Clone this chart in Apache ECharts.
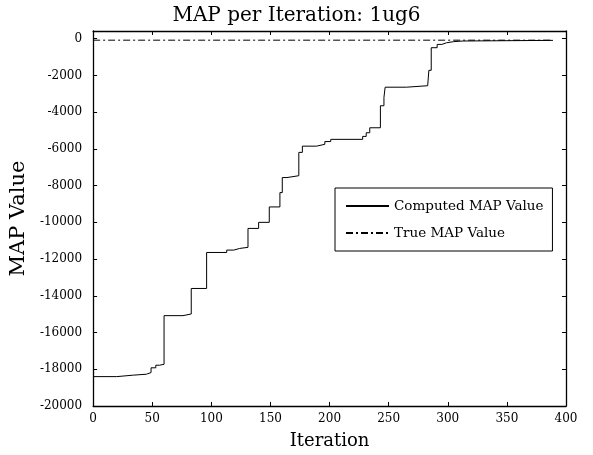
<!DOCTYPE html>
<html>
<head>
<meta charset="utf-8">
<script src="https://cdn.jsdelivr.net/npm/echarts@6/dist/echarts.min.js"></script>
<style>html,body{margin:0;padding:0;background:#fff;}#c{width:593px;height:455px;}</style>
</head>
<body>
<div id="c"></div>
<script>
// Computed MAP breakpoints (value holds from this iteration until the next)
const iterations = [0, 20, 34, 45, 49, 53, 56, 60, 76, 83, 96, 113, 119, 124, 131, 140, 149, 158, 160, 164, 174, 177, 189, 196, 201, 228, 231, 234, 243, 246, 247, 265, 283, 284, 286, 291, 295, 299, 305, 313, 389];
const computedMAP = [-18400, -18320, -18270, -18180, -17920, -17780, -17730, -15080, -14990, -13600, -11640, -11510, -11420, -11360, -10330, -10000, -9160, -8380, -7560, -7460, -6190, -5850, -5750, -5600, -5480, -5320, -5120, -4850, -3650, -3200, -2640, -2560, -2480, -1720, -490, -310, -220, -160, -125, -90, -80];
const trueIterations = [0, 389];
const trueMAP = [-80, -80];
const xTicks = [0, 50, 100, 150, 200, 250, 300, 350, 400];
const yTicks = [-20000, -18000, -16000, -14000, -12000, -10000, -8000, -6000, -4000, -2000, 0];

const FONT = 'DejaVu Serif';
const computedData = iterations.map((x, i) => [x, computedMAP[i]]);
const trueData = trueIterations.map((x, i) => [x, trueMAP[i]]);

const chart = echarts.init(document.getElementById('c'), null, {renderer: 'canvas'});
const lineAxis = {show: true, onZero: false, lineStyle: {color: '#000', width: 1.3}};
const tick = {show: true, inside: true, length: 4, lineStyle: {color: '#000', width: 1}};
const plain = v => String(v);
chart.setOption({
  backgroundColor: '#fff',
  animation: false,
  title: {
    text: 'MAP per Iteration: 1ug6',
    left: 'center',
    top: 1,
    textStyle: {fontFamily: FONT, fontWeight: 'normal', fontSize: 20, color: '#000'}
  },
  grid: {left: 89, right: 27, top: 31, bottom: 48},
  legend: {
    orient: 'vertical',
    left: 335,
    top: 188,
    padding: [11, 9, 11, 10],
    itemGap: 13,
    itemWidth: 43,
    itemHeight: 14,
    borderColor: '#000',
    borderWidth: 1,
    backgroundColor: '#fff',
    itemStyle: {opacity: 0},
    textStyle: {fontFamily: FONT, fontSize: 13.5, color: '#000'},
    data: ['Computed MAP Value', 'True MAP Value']
  },
  xAxis: [{
    type: 'value', min: xTicks[0], max: xTicks[xTicks.length - 1], interval: 50,
    name: 'Iteration', nameLocation: 'middle', nameGap: 26,
    nameTextStyle: {fontFamily: FONT, fontSize: 18, color: '#000'},
    axisLine: lineAxis, axisTick: tick,
    axisLabel: {fontFamily: FONT, fontSize: 12, color: '#000', margin: 7, formatter: plain},
    splitLine: {show: false}
  }, {
    type: 'value', position: 'top', min: xTicks[0], max: xTicks[xTicks.length - 1], interval: 50,
    axisLine: lineAxis, axisTick: tick, axisLabel: {show: false}, splitLine: {show: false}
  }],
  yAxis: [{
    type: 'value', min: yTicks[0], max: 420, interval: 2000,
    name: 'MAP Value', nameLocation: 'middle', nameGap: 51,
    nameTextStyle: {fontFamily: FONT, fontSize: 21, color: '#000'},
    axisLine: lineAxis, axisTick: tick,
    axisLabel: {fontFamily: FONT, fontSize: 12, color: '#000', margin: 11, showMaxLabel: false, formatter: plain},
    splitLine: {show: false}
  }, {
    type: 'value', position: 'right', min: yTicks[0], max: 420, interval: 2000,
    axisLine: lineAxis, axisTick: tick, axisLabel: {show: false}, splitLine: {show: false}
  }],
  series: [{
    name: 'Computed MAP Value',
    type: 'line',
    step: 'end',
    data: computedData,
    symbol: 'none',
    lineStyle: {color: '#000', width: 1},
    itemStyle: {color: '#000'}
  }, {
    name: 'True MAP Value',
    type: 'line',
    data: trueData,
    symbol: 'none',
    lineStyle: {color: '#000', width: 1, type: [7, 3, 2, 3]},
    itemStyle: {color: '#000'}
  }]
});
</script>
</body>
</html>
